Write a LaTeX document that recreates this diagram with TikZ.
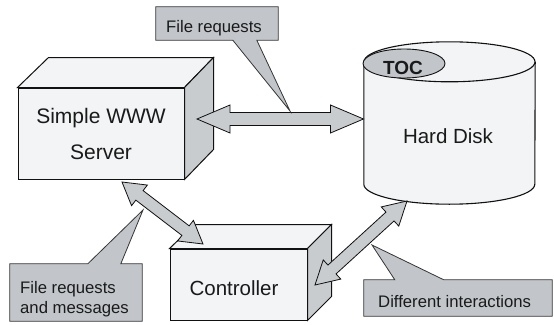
\documentclass[tikz,border=0pt]{standalone}
\usepackage{fontspec}
\setmainfont{Liberation Sans}
\usetikzlibrary{calc,shapes.geometric}
\definecolor{facelight}{HTML}{F2F4F5}
\definecolor{faceside}{HTML}{C8CCCF}
\definecolor{callfill}{HTML}{C2C6CA}
\definecolor{arrfill}{HTML}{C8CCCF}
\definecolor{txt}{HTML}{1A1A1A}
\definecolor{edge}{HTML}{111111}
\tikzset{
  boxline/.style={draw=edge, line width=1pt, line join=miter},
  frontface/.style={boxline, fill=facelight, inner sep=0pt},
  sideface/.style={boxline, fill=faceside},
  topface/.style={boxline, fill=facelight},
  fatarrowstyle/.style={draw=edge, line width=0.8pt, fill=arrfill, line join=miter},
  callshape/.style={draw=edge!85, line width=0.8pt, fill=callfill, line join=miter},
  callbox/.style={inner sep=0pt},
  bigtext/.style={text=txt, font=\fontsize{20.5}{24}\selectfont},
  smalltext/.style={text=txt, font=\fontsize{16.7}{20}\selectfont, inner sep=0pt},
}
\newcommand\fatarrow[6]{% #1 prefix, #2 A, #3 B, #4 shaft half width, #5 head half width, #6 head length
  \coordinate (#1p) at ($(#2)!#6!(#3)$);
  \coordinate (#1q) at ($(#3)!#6!(#2)$);
  \filldraw[fatarrowstyle] (#2) -- ($(#1p)!#5!90:(#3)$) -- ($(#1p)!#4!90:(#3)$)
    -- ($(#1q)!#4!-90:(#2)$) -- ($(#1q)!#5!-90:(#2)$) -- (#3)
    -- ($(#1q)!#5!90:(#2)$) -- ($(#1q)!#4!90:(#2)$)
    -- ($(#1p)!#4!-90:(#3)$) -- ($(#1p)!#5!-90:(#3)$) -- cycle;
}
\begin{document}
\begin{tikzpicture}[x=1pt,y=-1pt]
\useasboundingbox (0,0) rectangle (554,324);
\fill[white] (0,0) rectangle (554,324);

% ---------- Server box ----------
\node[frontface, minimum width=166pt, minimum height=91pt, align=center, text=txt,
      font=\fontsize{21}{36}\selectfont] (srv) at (101,133.5) {Simple WWW\\Server};
\filldraw[topface] (srv.north west) -- ++(31,-30) -- ($(srv.north east)+(29,-30)$) -- (srv.north east) -- cycle;
\filldraw[sideface] (srv.north east) -- ++(29,-30) -- ($(srv.south east)+(29,-30)$) -- (srv.south east) -- cycle;

% ---------- Controller box ----------
\node[frontface, minimum width=137pt, minimum height=71pt] (ctl) at (238.5,284.5) {};
\filldraw[topface] (ctl.north west) -- ++(25,-24) -- ($(ctl.north east)+(24,-24)$) -- (ctl.north east) -- cycle;
\filldraw[sideface] (ctl.north east) -- ++(24,-24) -- ($(ctl.south east)+(24,-24)$) -- (ctl.south east) -- cycle;
\node[bigtext, anchor=base, inner sep=0pt] (ctltext) at (234,295) {Controller};

% ---------- Hard disk ----------
\node[inner sep=0pt, minimum width=171pt, minimum height=122pt] (hd) at (449.5,123) {};
\fill[facelight] (hd.north west) -- (hd.south west)
   arc[start angle=180, end angle=360, x radius=85.5pt, y radius=20pt] -- (hd.north east) -- cycle;
\draw[boxline, line width=1.1pt] (hd.north west) -- (hd.south west)
   arc[start angle=180, end angle=360, x radius=85.5pt, y radius=20pt] -- (hd.north east);
\filldraw[boxline, line width=1.1pt, fill=facelight] (hd.north) ellipse[x radius=85.5pt, y radius=20pt];
\node[ellipse, draw=edge, line width=0.9pt, fill=callfill, minimum width=82pt, minimum height=29pt,
      inner sep=0pt] (toc) at (404,63.5) {};
\node[anchor=base, inner sep=0pt, text=txt, font=\fontsize{19}{22}\selectfont\bfseries] (toctext) at (403,74) {TOC};
\node[bigtext, anchor=base, inner sep=0pt] (hdtext) at (448,143) {Hard Disk};

% ---------- Fat double arrows ----------
\coordinate (a1s) at (197,119);
\coordinate (a1e) at (363.5,119);
\fatarrow{ha}{a1s}{a1e}{6.5pt}{14pt}{33pt}
\coordinate (a2s) at (122,182);
\coordinate (a2e) at (203,244);
\fatarrow{sa}{a2s}{a2e}{6pt}{13pt}{22pt}
\coordinate (a3s) at (407,201);
\coordinate (a3e) at (315,285);
\fatarrow{da}{a3s}{a3e}{6pt}{13pt}{23pt}

% ---------- Callout: File requests ----------
\node[callbox, minimum width=122pt, minimum height=33pt] (c1) at (217,23.5) {};
\coordinate (c1tip) at (290,111);
\filldraw[callshape] (c1.north west) -- (c1.north east) -- (c1.south east)
   -- ($(c1.south west)+(101,0)$) -- (c1tip) -- ($(c1.south west)+(77,0)$) -- (c1.south west) -- cycle;
\node[smalltext, anchor=base west] (c1text) at (166,32) {File requests};

% ---------- Callout: File requests and messages ----------
\node[callbox, minimum width=132pt, minimum height=57pt] (c2) at (76,292.5) {};
\coordinate (c2tip) at (143,210);
\filldraw[callshape] (c2.north west) -- ($(c2.north west)+(78,0)$) -- (c2tip)
   -- ($(c2.north west)+(111,0)$) -- (c2.north east) -- (c2.south east) -- (c2.south west) -- cycle;
\node[smalltext, anchor=base west] (c2text1) at (20,293) {File requests};
\node[smalltext, anchor=base west] (c2text2) at (20,313) {and messages};

% ---------- Callout: Different interactions ----------
\node[callbox, minimum width=188pt, minimum height=36pt] (c3) at (458,298) {};
\coordinate (c3tip) at (372,245);
\filldraw[callshape] (c3.north west) -- ($(c3.north west)+(31,0)$) -- (c3tip)
   -- ($(c3.north west)+(80,0)$) -- (c3.north east) -- (c3.south east) -- (c3.south west) -- cycle;
\node[smalltext, anchor=base west] (c3text) at (378,307) {Different interactions};
\end{tikzpicture}
\end{document}
